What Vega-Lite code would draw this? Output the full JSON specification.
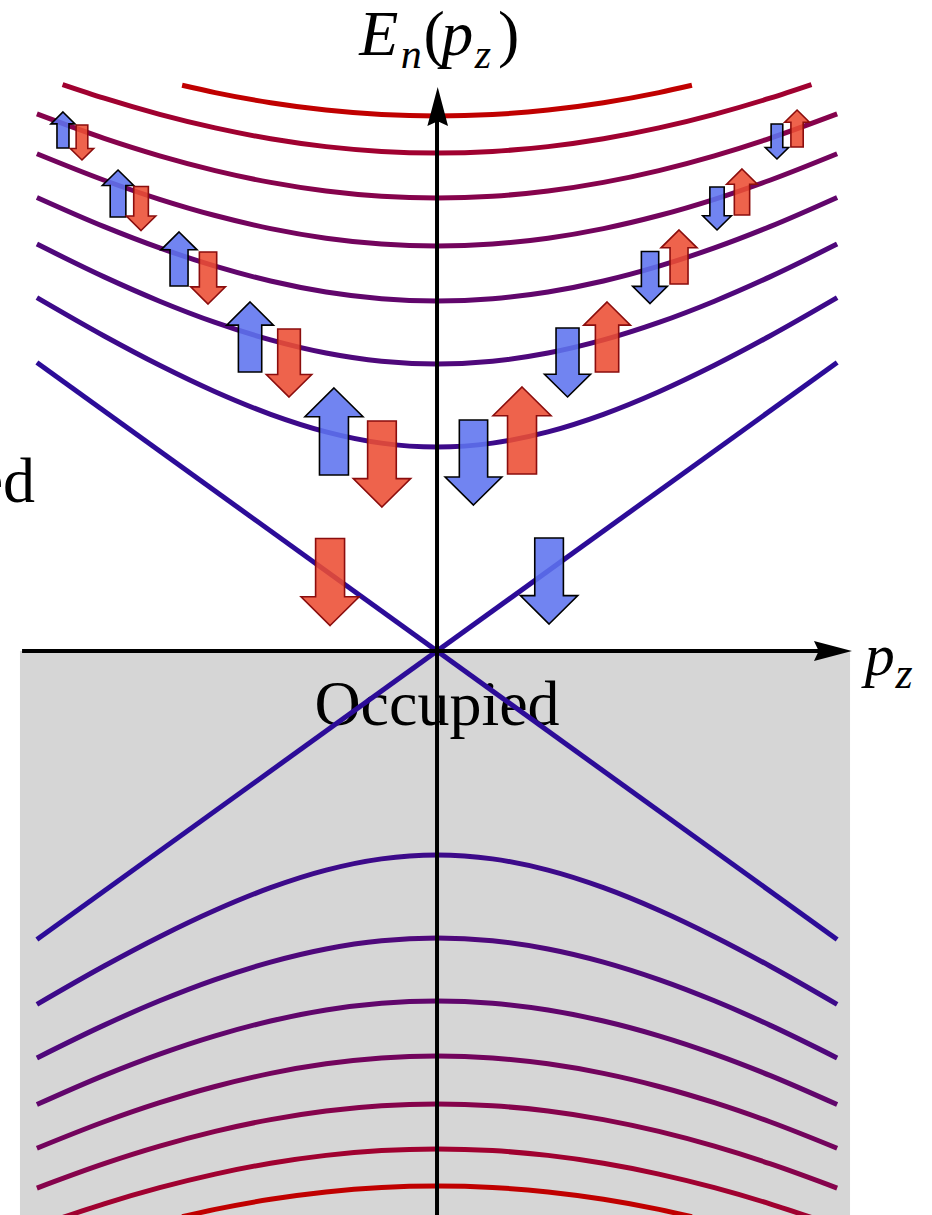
{
  "$schema": "https://vega.github.io/schema/vega-lite/v6.json",
  "width": 932,
  "height": 1215,
  "padding": 0,
  "autosize": {"type": "none"},
  "background": "white",
  "config": {"view": {"stroke": null}},
  "data": {"values": [{}]},
  "datasets": {
    "curves": [
      {"n":1,"b":"up","p":-2.885,"E":3.5334},{"n":1,"b":"up","p":-2.4,"E":3.1499},{"n":1,"b":"up","p":-2.0,"E":2.8569},{"n":1,"b":"up","p":-1.6,"E":2.5926},{"n":1,"b":"up","p":-1.2,"E":2.3668},{"n":1,"b":"up","p":-0.8,"E":2.1913},{"n":1,"b":"up","p":-0.4,"E":2.0788},{"n":1,"b":"up","p":0,"E":2.04},{"n":1,"b":"up","p":0.4,"E":2.0788},{"n":1,"b":"up","p":0.8,"E":2.1913},{"n":1,"b":"up","p":1.2,"E":2.3668},{"n":1,"b":"up","p":1.6,"E":2.5926},{"n":1,"b":"up","p":2.0,"E":2.8569},{"n":1,"b":"up","p":2.4,"E":3.1499},{"n":1,"b":"up","p":2.885,"E":3.5334},
      {"n":2,"b":"up","p":-2.885,"E":4.0694},{"n":2,"b":"up","p":-2.4,"E":3.7412},{"n":2,"b":"up","p":-2.0,"E":3.4981},{"n":2,"b":"up","p":-1.6,"E":3.2859},{"n":2,"b":"up","p":-1.2,"E":3.1108},{"n":2,"b":"up","p":-0.8,"E":2.9794},{"n":2,"b":"up","p":-0.4,"E":2.8977},{"n":2,"b":"up","p":0,"E":2.87},{"n":2,"b":"up","p":0.4,"E":2.8977},{"n":2,"b":"up","p":0.8,"E":2.9794},{"n":2,"b":"up","p":1.2,"E":3.1108},{"n":2,"b":"up","p":1.6,"E":3.2859},{"n":2,"b":"up","p":2.0,"E":3.4981},{"n":2,"b":"up","p":2.4,"E":3.7412},{"n":2,"b":"up","p":2.885,"E":4.0694},
      {"n":3,"b":"up","p":-2.885,"E":4.5357},{"n":3,"b":"up","p":-2.4,"E":4.2438},{"n":3,"b":"up","p":-2.0,"E":4.0311},{"n":3,"b":"up","p":-1.6,"E":3.8484},{"n":3,"b":"up","p":-1.2,"E":3.70},{"n":3,"b":"up","p":-0.8,"E":3.5903},{"n":3,"b":"up","p":-0.4,"E":3.5228},{"n":3,"b":"up","p":0,"E":3.50},{"n":3,"b":"up","p":0.4,"E":3.5228},{"n":3,"b":"up","p":0.8,"E":3.5903},{"n":3,"b":"up","p":1.2,"E":3.70},{"n":3,"b":"up","p":1.6,"E":3.8484},{"n":3,"b":"up","p":2.0,"E":4.0311},{"n":3,"b":"up","p":2.4,"E":4.2438},{"n":3,"b":"up","p":2.885,"E":4.5357},
      {"n":4,"b":"up","p":-2.885,"E":4.9725},{"n":4,"b":"up","p":-2.4,"E":4.7077},{"n":4,"b":"up","p":-2.0,"E":4.5169},{"n":4,"b":"up","p":-1.6,"E":4.3546},{"n":4,"b":"up","p":-1.2,"E":4.2240},{"n":4,"b":"up","p":-0.8,"E":4.1283},{"n":4,"b":"up","p":-0.4,"E":4.0697},{"n":4,"b":"up","p":0,"E":4.05},{"n":4,"b":"up","p":0.4,"E":4.0697},{"n":4,"b":"up","p":0.8,"E":4.1283},{"n":4,"b":"up","p":1.2,"E":4.2240},{"n":4,"b":"up","p":1.6,"E":4.3546},{"n":4,"b":"up","p":2.0,"E":4.5169},{"n":4,"b":"up","p":2.4,"E":4.7077},{"n":4,"b":"up","p":2.885,"E":4.9725},
      {"n":5,"b":"up","p":-2.885,"E":5.3706},{"n":5,"b":"up","p":-2.4,"E":5.1265},{"n":5,"b":"up","p":-2.0,"E":4.9519},{"n":5,"b":"up","p":-1.6,"E":4.8043},{"n":5,"b":"up","p":-1.2,"E":4.6862},{"n":5,"b":"up","p":-0.8,"E":4.6001},{"n":5,"b":"up","p":-0.4,"E":4.5476},{"n":5,"b":"up","p":0,"E":4.53},{"n":5,"b":"up","p":0.4,"E":4.5476},{"n":5,"b":"up","p":0.8,"E":4.6001},{"n":5,"b":"up","p":1.2,"E":4.6862},{"n":5,"b":"up","p":1.6,"E":4.8043},{"n":5,"b":"up","p":2.0,"E":4.9519},{"n":5,"b":"up","p":2.4,"E":5.1265},{"n":5,"b":"up","p":2.885,"E":5.3706},
      {"n":6,"b":"up","p":-2.70,"E":5.6648},{"n":6,"b":"up","p":-2.4,"E":5.5282},{"n":6,"b":"up","p":-2.0,"E":5.3666},{"n":6,"b":"up","p":-1.6,"E":5.2307},{"n":6,"b":"up","p":-1.2,"E":5.1225},{"n":6,"b":"up","p":-0.8,"E":5.0438},{"n":6,"b":"up","p":-0.4,"E":4.9960},{"n":6,"b":"up","p":0,"E":4.98},{"n":6,"b":"up","p":0.4,"E":4.9960},{"n":6,"b":"up","p":0.8,"E":5.0438},{"n":6,"b":"up","p":1.2,"E":5.1225},{"n":6,"b":"up","p":1.6,"E":5.2307},{"n":6,"b":"up","p":2.0,"E":5.3666},{"n":6,"b":"up","p":2.4,"E":5.5282},{"n":6,"b":"up","p":2.70,"E":5.6648},
      {"n":7,"b":"up","p":-1.838,"E":5.6569},{"n":7,"b":"up","p":-1.6,"E":5.5841},{"n":7,"b":"up","p":-1.2,"E":5.4829},{"n":7,"b":"up","p":-0.8,"E":5.4095},{"n":7,"b":"up","p":-0.4,"E":5.3649},{"n":7,"b":"up","p":0,"E":5.35},{"n":7,"b":"up","p":0.4,"E":5.3649},{"n":7,"b":"up","p":0.8,"E":5.4095},{"n":7,"b":"up","p":1.2,"E":5.4829},{"n":7,"b":"up","p":1.6,"E":5.5841},{"n":7,"b":"up","p":1.838,"E":5.6569},
      {"n":1,"b":"lo","p":-2.885,"E":-3.5334},{"n":1,"b":"lo","p":-2.4,"E":-3.1499},{"n":1,"b":"lo","p":-2.0,"E":-2.8569},{"n":1,"b":"lo","p":-1.6,"E":-2.5926},{"n":1,"b":"lo","p":-1.2,"E":-2.3668},{"n":1,"b":"lo","p":-0.8,"E":-2.1913},{"n":1,"b":"lo","p":-0.4,"E":-2.0788},{"n":1,"b":"lo","p":0,"E":-2.04},{"n":1,"b":"lo","p":0.4,"E":-2.0788},{"n":1,"b":"lo","p":0.8,"E":-2.1913},{"n":1,"b":"lo","p":1.2,"E":-2.3668},{"n":1,"b":"lo","p":1.6,"E":-2.5926},{"n":1,"b":"lo","p":2.0,"E":-2.8569},{"n":1,"b":"lo","p":2.4,"E":-3.1499},{"n":1,"b":"lo","p":2.885,"E":-3.5334},
      {"n":2,"b":"lo","p":-2.885,"E":-4.0694},{"n":2,"b":"lo","p":-2.4,"E":-3.7412},{"n":2,"b":"lo","p":-2.0,"E":-3.4981},{"n":2,"b":"lo","p":-1.6,"E":-3.2859},{"n":2,"b":"lo","p":-1.2,"E":-3.1108},{"n":2,"b":"lo","p":-0.8,"E":-2.9794},{"n":2,"b":"lo","p":-0.4,"E":-2.8977},{"n":2,"b":"lo","p":0,"E":-2.87},{"n":2,"b":"lo","p":0.4,"E":-2.8977},{"n":2,"b":"lo","p":0.8,"E":-2.9794},{"n":2,"b":"lo","p":1.2,"E":-3.1108},{"n":2,"b":"lo","p":1.6,"E":-3.2859},{"n":2,"b":"lo","p":2.0,"E":-3.4981},{"n":2,"b":"lo","p":2.4,"E":-3.7412},{"n":2,"b":"lo","p":2.885,"E":-4.0694},
      {"n":3,"b":"lo","p":-2.885,"E":-4.5357},{"n":3,"b":"lo","p":-2.4,"E":-4.2438},{"n":3,"b":"lo","p":-2.0,"E":-4.0311},{"n":3,"b":"lo","p":-1.6,"E":-3.8484},{"n":3,"b":"lo","p":-1.2,"E":-3.70},{"n":3,"b":"lo","p":-0.8,"E":-3.5903},{"n":3,"b":"lo","p":-0.4,"E":-3.5228},{"n":3,"b":"lo","p":0,"E":-3.50},{"n":3,"b":"lo","p":0.4,"E":-3.5228},{"n":3,"b":"lo","p":0.8,"E":-3.5903},{"n":3,"b":"lo","p":1.2,"E":-3.70},{"n":3,"b":"lo","p":1.6,"E":-3.8484},{"n":3,"b":"lo","p":2.0,"E":-4.0311},{"n":3,"b":"lo","p":2.4,"E":-4.2438},{"n":3,"b":"lo","p":2.885,"E":-4.5357},
      {"n":4,"b":"lo","p":-2.885,"E":-4.9725},{"n":4,"b":"lo","p":-2.4,"E":-4.7077},{"n":4,"b":"lo","p":-2.0,"E":-4.5169},{"n":4,"b":"lo","p":-1.6,"E":-4.3546},{"n":4,"b":"lo","p":-1.2,"E":-4.2240},{"n":4,"b":"lo","p":-0.8,"E":-4.1283},{"n":4,"b":"lo","p":-0.4,"E":-4.0697},{"n":4,"b":"lo","p":0,"E":-4.05},{"n":4,"b":"lo","p":0.4,"E":-4.0697},{"n":4,"b":"lo","p":0.8,"E":-4.1283},{"n":4,"b":"lo","p":1.2,"E":-4.2240},{"n":4,"b":"lo","p":1.6,"E":-4.3546},{"n":4,"b":"lo","p":2.0,"E":-4.5169},{"n":4,"b":"lo","p":2.4,"E":-4.7077},{"n":4,"b":"lo","p":2.885,"E":-4.9725},
      {"n":5,"b":"lo","p":-2.885,"E":-5.3706},{"n":5,"b":"lo","p":-2.4,"E":-5.1265},{"n":5,"b":"lo","p":-2.0,"E":-4.9519},{"n":5,"b":"lo","p":-1.6,"E":-4.8043},{"n":5,"b":"lo","p":-1.2,"E":-4.6862},{"n":5,"b":"lo","p":-0.8,"E":-4.6001},{"n":5,"b":"lo","p":-0.4,"E":-4.5476},{"n":5,"b":"lo","p":0,"E":-4.53},{"n":5,"b":"lo","p":0.4,"E":-4.5476},{"n":5,"b":"lo","p":0.8,"E":-4.6001},{"n":5,"b":"lo","p":1.2,"E":-4.6862},{"n":5,"b":"lo","p":1.6,"E":-4.8043},{"n":5,"b":"lo","p":2.0,"E":-4.9519},{"n":5,"b":"lo","p":2.4,"E":-5.1265},{"n":5,"b":"lo","p":2.885,"E":-5.3706},
      {"n":6,"b":"lo","p":-2.70,"E":-5.6648},{"n":6,"b":"lo","p":-2.4,"E":-5.5282},{"n":6,"b":"lo","p":-2.0,"E":-5.3666},{"n":6,"b":"lo","p":-1.6,"E":-5.2307},{"n":6,"b":"lo","p":-1.2,"E":-5.1225},{"n":6,"b":"lo","p":-0.8,"E":-5.0438},{"n":6,"b":"lo","p":-0.4,"E":-4.9960},{"n":6,"b":"lo","p":0,"E":-4.98},{"n":6,"b":"lo","p":0.4,"E":-4.9960},{"n":6,"b":"lo","p":0.8,"E":-5.0438},{"n":6,"b":"lo","p":1.2,"E":-5.1225},{"n":6,"b":"lo","p":1.6,"E":-5.2307},{"n":6,"b":"lo","p":2.0,"E":-5.3666},{"n":6,"b":"lo","p":2.4,"E":-5.5282},{"n":6,"b":"lo","p":2.70,"E":-5.6648},
      {"n":7,"b":"lo","p":-1.838,"E":-5.6569},{"n":7,"b":"lo","p":-1.6,"E":-5.5841},{"n":7,"b":"lo","p":-1.2,"E":-5.4829},{"n":7,"b":"lo","p":-0.8,"E":-5.4095},{"n":7,"b":"lo","p":-0.4,"E":-5.3649},{"n":7,"b":"lo","p":0,"E":-5.35},{"n":7,"b":"lo","p":0.4,"E":-5.3649},{"n":7,"b":"lo","p":0.8,"E":-5.4095},{"n":7,"b":"lo","p":1.2,"E":-5.4829},{"n":7,"b":"lo","p":1.6,"E":-5.5841},{"n":7,"b":"lo","p":1.838,"E":-5.6569}
    ],
    "zero": [
      {"b":"a","p":-2.885,"E":2.885},{"b":"a","p":2.885,"E":-2.885},
      {"b":"c","p":-2.885,"E":-2.885},{"b":"c","p":2.885,"E":2.885}
    ],
    "arrows": [
      {"p":-2.697,"E":5.21,"dir":"up","spin":"blue","w":0.414},
      {"p":-2.560,"E":5.085,"dir":"down","spin":"red","w":0.402},
      {"p":-2.300,"E":4.575,"dir":"up","spin":"blue","w":0.540},
      {"p":-2.134,"E":4.425,"dir":"down","spin":"red","w":0.506},
      {"p":-1.860,"E":3.92,"dir":"up","spin":"blue","w":0.621},
      {"p":-1.651,"E":3.73,"dir":"down","spin":"red","w":0.598},
      {"p":-1.348,"E":3.14,"dir":"up","spin":"blue","w":0.805},
      {"p":-1.067,"E":2.88,"dir":"down","spin":"red","w":0.782},
      {"p":-0.743,"E":2.195,"dir":"up","spin":"blue","w":1.0},
      {"p":-0.397,"E":1.87,"dir":"down","spin":"red","w":0.989},
      {"p":0.263,"E":1.885,"dir":"down","spin":"blue","w":0.977},
      {"p":0.613,"E":2.205,"dir":"up","spin":"red","w":1.0},
      {"p":0.941,"E":2.885,"dir":"down","spin":"blue","w":0.793},
      {"p":1.226,"E":3.14,"dir":"up","spin":"red","w":0.805},
      {"p":1.536,"E":3.735,"dir":"down","spin":"blue","w":0.598},
      {"p":1.745,"E":3.94,"dir":"up","spin":"red","w":0.621},
      {"p":2.019,"E":4.425,"dir":"down","spin":"blue","w":0.494},
      {"p":2.199,"E":4.59,"dir":"up","spin":"red","w":0.529},
      {"p":2.451,"E":5.095,"dir":"down","spin":"blue","w":0.402},
      {"p":2.596,"E":5.225,"dir":"up","spin":"red","w":0.425},
      {"p":-0.771,"E":0.69,"dir":"down","spin":"red","w":1.0},
      {"p":0.808,"E":0.70,"dir":"down","spin":"blue","w":0.989}
    ]
  },
  "layer": [
    {
      "mark": {"type": "rect", "fill": "#d6d6d6"},
      "encoding": {
        "x": {"datum": -3.007, "type": "quantitative", "scale": {"domain": [-3.151, 3.569], "nice": false, "zero": false}, "axis": null},
        "x2": {"datum": 2.978},
        "y": {"datum": 0, "type": "quantitative", "scale": {"domain": [-5.64, 6.51], "nice": false, "zero": false}, "axis": null},
        "y2": {"datum": -5.8}
      }
    },
    {
      "mark": {"type": "text", "text": "Occupied", "font": "Liberation Serif", "fontSize": 64, "align": "center", "baseline": "alphabetic", "color": "black"},
      "encoding": {
        "x": {"datum": 0, "type": "quantitative"},
        "y": {"datum": -0.74, "type": "quantitative"}
      }
    },
    {
      "mark": {"type": "text", "text": "Unoccupied", "font": "Liberation Serif", "fontSize": 64, "align": "right", "baseline": "alphabetic", "color": "black"},
      "encoding": {
        "x": {"datum": -2.898, "type": "quantitative"},
        "y": {"datum": 1.49, "type": "quantitative"}
      }
    },
    {
      "data": {"name": "zero"},
      "mark": {"type": "line", "color": "#2c0c98", "strokeWidth": 5, "interpolate": "linear"},
      "encoding": {
        "x": {"field": "p", "type": "quantitative"},
        "y": {"field": "E", "type": "quantitative"},
        "detail": {"field": "b"}
      }
    },
    {
      "data": {"name": "curves"},
      "mark": {"type": "line", "strokeWidth": 5, "interpolate": "monotone"},
      "encoding": {
        "x": {"field": "p", "type": "quantitative"},
        "y": {"field": "E", "type": "quantitative"},
        "detail": {"field": "b"},
        "color": {"field": "n", "type": "ordinal", "legend": null,
          "scale": {"domain": [1,2,3,4,5,6,7], "range": ["#3d0a8a","#4f087b","#61066c","#73045d","#86034c","#a00130","#c00000"]}}
      }
    },
    {
      "mark": {"type": "rule", "color": "black", "strokeWidth": 4},
      "encoding": {
        "x": {"datum": -2.992, "type": "quantitative"},
        "x2": {"datum": 2.80},
        "y": {"datum": 0, "type": "quantitative"}
      }
    },
    {
      "mark": {"type": "rule", "color": "black", "strokeWidth": 4},
      "encoding": {
        "x": {"datum": 0, "type": "quantitative"},
        "y": {"datum": -5.8, "type": "quantitative"},
        "y2": {"datum": 5.35}
      }
    },
    {
      "mark": {"type": "point", "filled": true, "opacity": 1, "color": "black", "size": 1444, "shape": "M1,0L-1,-0.53L-0.75,0L-1,0.53Z"},
      "encoding": {
        "x": {"datum": 2.855, "type": "quantitative"},
        "y": {"datum": 0, "type": "quantitative"}
      }
    },
    {
      "mark": {"type": "point", "filled": true, "opacity": 1, "color": "black", "size": 1521, "shape": "M0,-1L0.53,1L0,0.75L-0.53,1Z"},
      "encoding": {
        "x": {"datum": 0.005, "type": "quantitative"},
        "y": {"datum": 5.445, "type": "quantitative"}
      }
    },
    {
      "data": {"name": "arrows"},
      "mark": {"type": "point", "filled": true, "opacity": 1, "fillOpacity": 0.88, "strokeOpacity": 1, "strokeWidth": 1.6},
      "encoding": {
        "x": {"field": "p", "type": "quantitative"},
        "y": {"field": "E", "type": "quantitative"},
        "shape": {"field": "dir", "type": "nominal", "legend": null,
          "scale": {"domain": ["up", "down"], "range": ["M0,-1L0.667,-0.34L0.333,-0.34L0.333,1L-0.333,1L-0.333,-0.34L-0.667,-0.34Z", "M0,1L0.667,0.34L0.333,0.34L0.333,-1L-0.333,-1L-0.333,0.34L-0.667,0.34Z"]}},
        "fill": {"field": "spin", "type": "nominal", "legend": null,
          "scale": {"domain": ["blue", "red"], "range": ["#5d73ef", "#ec4d33"]}},
        "stroke": {"field": "spin", "type": "nominal", "legend": null,
          "scale": {"domain": ["blue", "red"], "range": ["#000000", "#8b0d0d"]}},
        "size": {"field": "w", "type": "quantitative", "legend": null,
          "scale": {"type": "pow", "exponent": 2, "domain": [0, 1], "range": [0, 7569]}}
      }
    },
    {
      "mark": {"type": "text", "text": "E", "font": "Liberation Serif", "fontStyle": "italic", "fontSize": 64, "align": "left", "baseline": "alphabetic", "color": "black"},
      "encoding": {"x": {"datum": -0.56, "type": "quantitative"}, "y": {"datum": 5.96, "type": "quantitative"}}
    },
    {
      "mark": {"type": "text", "text": "n", "font": "Liberation Serif", "fontStyle": "italic", "fontSize": 42, "align": "left", "baseline": "alphabetic", "color": "black"},
      "encoding": {"x": {"datum": -0.262, "type": "quantitative"}, "y": {"datum": 5.83, "type": "quantitative"}}
    },
    {
      "mark": {"type": "text", "text": "(", "font": "Liberation Serif", "fontSize": 64, "align": "left", "baseline": "alphabetic", "color": "black"},
      "encoding": {"x": {"datum": -0.097, "type": "quantitative"}, "y": {"datum": 5.96, "type": "quantitative"}}
    },
    {
      "mark": {"type": "text", "text": "p", "font": "Liberation Serif", "fontStyle": "italic", "fontSize": 64, "align": "left", "baseline": "alphabetic", "color": "black"},
      "encoding": {"x": {"datum": 0.03, "type": "quantitative"}, "y": {"datum": 5.96, "type": "quantitative"}}
    },
    {
      "mark": {"type": "text", "text": "z", "font": "Liberation Serif", "fontStyle": "italic", "fontSize": 42, "align": "left", "baseline": "alphabetic", "color": "black"},
      "encoding": {"x": {"datum": 0.272, "type": "quantitative"}, "y": {"datum": 5.83, "type": "quantitative"}}
    },
    {
      "mark": {"type": "text", "text": ")", "font": "Liberation Serif", "fontSize": 64, "align": "left", "baseline": "alphabetic", "color": "black"},
      "encoding": {"x": {"datum": 0.44, "type": "quantitative"}, "y": {"datum": 5.96, "type": "quantitative"}}
    },
    {
      "mark": {"type": "text", "text": "p", "font": "Liberation Serif", "fontStyle": "italic", "fontSize": 60, "align": "left", "baseline": "alphabetic", "color": "black"},
      "encoding": {"x": {"datum": 3.085, "type": "quantitative"}, "y": {"datum": -0.24, "type": "quantitative"}}
    },
    {
      "mark": {"type": "text", "text": "z", "font": "Liberation Serif", "fontStyle": "italic", "fontSize": 44, "align": "left", "baseline": "alphabetic", "color": "black"},
      "encoding": {"x": {"datum": 3.305, "type": "quantitative"}, "y": {"datum": -0.37, "type": "quantitative"}}
    }
  ]
}
